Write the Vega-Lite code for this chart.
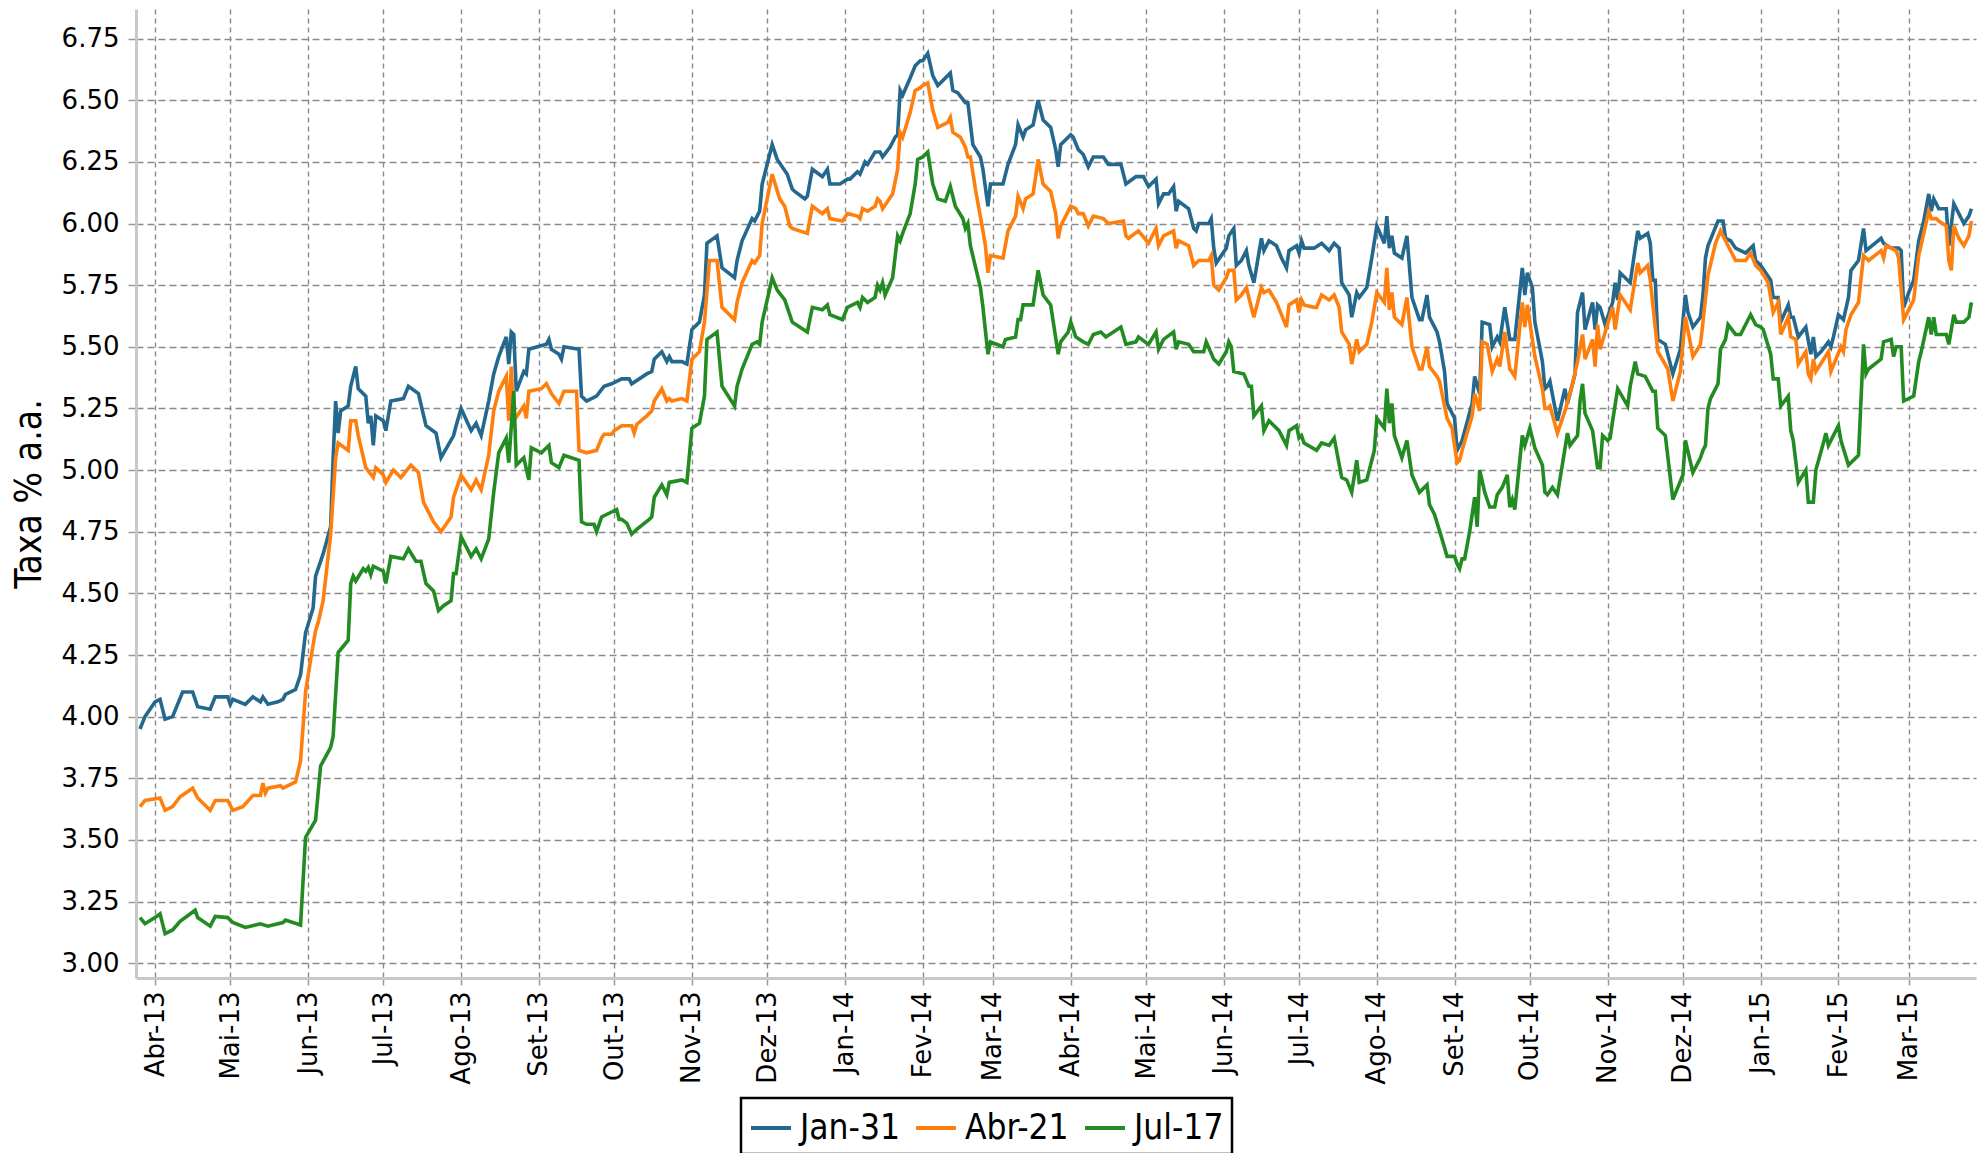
{
"$schema": "https://vega.github.io/schema/vega-lite/v6.json",
"width": 1840, "height": 969,
"autosize": {"type": "none"},
"padding": {"left": 136, "top": 9, "right": 8, "bottom": 175},
"background": "white",
"config": {"view": {"stroke": null}, "legend": {"strokeWidth": 2.5}},
"data": {"values": [
{"d":"2013-03-26","s":"Jan-31","v":3.95},{"d":"2013-03-28","s":"Jan-31","v":4.00},{"d":"2013-04-01","s":"Jan-31","v":4.06},{"d":"2013-04-03","s":"Jan-31","v":4.07},{"d":"2013-04-05","s":"Jan-31","v":3.99},{"d":"2013-04-08","s":"Jan-31","v":4.00},{"d":"2013-04-12","s":"Jan-31","v":4.10},{"d":"2013-04-16","s":"Jan-31","v":4.10},{"d":"2013-04-18","s":"Jan-31","v":4.04},{"d":"2013-04-23","s":"Jan-31","v":4.03},{"d":"2013-04-25","s":"Jan-31","v":4.08},{"d":"2013-04-30","s":"Jan-31","v":4.08},{"d":"2013-05-01","s":"Jan-31","v":4.05},{"d":"2013-05-02","s":"Jan-31","v":4.07},{"d":"2013-05-07","s":"Jan-31","v":4.05},{"d":"2013-05-10","s":"Jan-31","v":4.08},{"d":"2013-05-13","s":"Jan-31","v":4.06},{"d":"2013-05-14","s":"Jan-31","v":4.08},{"d":"2013-05-16","s":"Jan-31","v":4.05},{"d":"2013-05-20","s":"Jan-31","v":4.06},{"d":"2013-05-22","s":"Jan-31","v":4.07},{"d":"2013-05-23","s":"Jan-31","v":4.09},{"d":"2013-05-27","s":"Jan-31","v":4.11},{"d":"2013-05-29","s":"Jan-31","v":4.17},{"d":"2013-05-31","s":"Jan-31","v":4.34},{"d":"2013-06-03","s":"Jan-31","v":4.44},{"d":"2013-06-04","s":"Jan-31","v":4.57},{"d":"2013-06-07","s":"Jan-31","v":4.66},{"d":"2013-06-10","s":"Jan-31","v":4.77},{"d":"2013-06-11","s":"Jan-31","v":5.05},{"d":"2013-06-12","s":"Jan-31","v":5.28},{"d":"2013-06-13","s":"Jan-31","v":5.15},{"d":"2013-06-14","s":"Jan-31","v":5.24},{"d":"2013-06-17","s":"Jan-31","v":5.26},{"d":"2013-06-18","s":"Jan-31","v":5.34},{"d":"2013-06-20","s":"Jan-31","v":5.42},{"d":"2013-06-21","s":"Jan-31","v":5.33},{"d":"2013-06-24","s":"Jan-31","v":5.30},{"d":"2013-06-25","s":"Jan-31","v":5.19},{"d":"2013-06-26","s":"Jan-31","v":5.22},{"d":"2013-06-27","s":"Jan-31","v":5.10},{"d":"2013-06-28","s":"Jan-31","v":5.22},{"d":"2013-07-01","s":"Jan-31","v":5.20},{"d":"2013-07-02","s":"Jan-31","v":5.16},{"d":"2013-07-04","s":"Jan-31","v":5.28},{"d":"2013-07-09","s":"Jan-31","v":5.29},{"d":"2013-07-11","s":"Jan-31","v":5.34},{"d":"2013-07-15","s":"Jan-31","v":5.31},{"d":"2013-07-18","s":"Jan-31","v":5.18},{"d":"2013-07-22","s":"Jan-31","v":5.15},{"d":"2013-07-24","s":"Jan-31","v":5.05},{"d":"2013-07-29","s":"Jan-31","v":5.14},{"d":"2013-07-30","s":"Jan-31","v":5.18},{"d":"2013-08-01","s":"Jan-31","v":5.25},{"d":"2013-08-05","s":"Jan-31","v":5.16},{"d":"2013-08-07","s":"Jan-31","v":5.19},{"d":"2013-08-09","s":"Jan-31","v":5.14},{"d":"2013-08-12","s":"Jan-31","v":5.28},{"d":"2013-08-14","s":"Jan-31","v":5.39},{"d":"2013-08-16","s":"Jan-31","v":5.46},{"d":"2013-08-19","s":"Jan-31","v":5.54},{"d":"2013-08-20","s":"Jan-31","v":5.43},{"d":"2013-08-21","s":"Jan-31","v":5.56},{"d":"2013-08-22","s":"Jan-31","v":5.55},{"d":"2013-08-23","s":"Jan-31","v":5.32},{"d":"2013-08-26","s":"Jan-31","v":5.40},{"d":"2013-08-27","s":"Jan-31","v":5.39},{"d":"2013-08-28","s":"Jan-31","v":5.49},{"d":"2013-09-04","s":"Jan-31","v":5.51},{"d":"2013-09-05","s":"Jan-31","v":5.53},{"d":"2013-09-06","s":"Jan-31","v":5.49},{"d":"2013-09-09","s":"Jan-31","v":5.47},{"d":"2013-09-10","s":"Jan-31","v":5.45},{"d":"2013-09-11","s":"Jan-31","v":5.50},{"d":"2013-09-17","s":"Jan-31","v":5.49},{"d":"2013-09-18","s":"Jan-31","v":5.30},{"d":"2013-09-20","s":"Jan-31","v":5.28},{"d":"2013-09-24","s":"Jan-31","v":5.30},{"d":"2013-09-27","s":"Jan-31","v":5.34},{"d":"2013-09-30","s":"Jan-31","v":5.35},{"d":"2013-10-02","s":"Jan-31","v":5.36},{"d":"2013-10-04","s":"Jan-31","v":5.37},{"d":"2013-10-07","s":"Jan-31","v":5.37},{"d":"2013-10-08","s":"Jan-31","v":5.35},{"d":"2013-10-14","s":"Jan-31","v":5.39},{"d":"2013-10-16","s":"Jan-31","v":5.40},{"d":"2013-10-17","s":"Jan-31","v":5.45},{"d":"2013-10-20","s":"Jan-31","v":5.48},{"d":"2013-10-22","s":"Jan-31","v":5.44},{"d":"2013-10-23","s":"Jan-31","v":5.46},{"d":"2013-10-24","s":"Jan-31","v":5.44},{"d":"2013-10-28","s":"Jan-31","v":5.44},{"d":"2013-10-30","s":"Jan-31","v":5.43},{"d":"2013-11-01","s":"Jan-31","v":5.57},{"d":"2013-11-04","s":"Jan-31","v":5.60},{"d":"2013-11-06","s":"Jan-31","v":5.71},{"d":"2013-11-07","s":"Jan-31","v":5.92},{"d":"2013-11-11","s":"Jan-31","v":5.95},{"d":"2013-11-13","s":"Jan-31","v":5.82},{"d":"2013-11-18","s":"Jan-31","v":5.78},{"d":"2013-11-19","s":"Jan-31","v":5.85},{"d":"2013-11-21","s":"Jan-31","v":5.93},{"d":"2013-11-25","s":"Jan-31","v":6.02},{"d":"2013-11-26","s":"Jan-31","v":6.01},{"d":"2013-11-28","s":"Jan-31","v":6.05},{"d":"2013-11-29","s":"Jan-31","v":6.16},{"d":"2013-12-03","s":"Jan-31","v":6.32},{"d":"2013-12-05","s":"Jan-31","v":6.26},{"d":"2013-12-09","s":"Jan-31","v":6.20},{"d":"2013-12-11","s":"Jan-31","v":6.14},{"d":"2013-12-12","s":"Jan-31","v":6.13},{"d":"2013-12-16","s":"Jan-31","v":6.10},{"d":"2013-12-17","s":"Jan-31","v":6.11},{"d":"2013-12-19","s":"Jan-31","v":6.22},{"d":"2013-12-23","s":"Jan-31","v":6.19},{"d":"2013-12-25","s":"Jan-31","v":6.22},{"d":"2013-12-26","s":"Jan-31","v":6.16},{"d":"2013-12-30","s":"Jan-31","v":6.16},{"d":"2014-01-02","s":"Jan-31","v":6.18},{"d":"2014-01-03","s":"Jan-31","v":6.18},{"d":"2014-01-06","s":"Jan-31","v":6.21},{"d":"2014-01-07","s":"Jan-31","v":6.20},{"d":"2014-01-09","s":"Jan-31","v":6.25},{"d":"2014-01-10","s":"Jan-31","v":6.24},{"d":"2014-01-13","s":"Jan-31","v":6.29},{"d":"2014-01-15","s":"Jan-31","v":6.29},{"d":"2014-01-16","s":"Jan-31","v":6.27},{"d":"2014-01-19","s":"Jan-31","v":6.31},{"d":"2014-01-21","s":"Jan-31","v":6.35},{"d":"2014-01-22","s":"Jan-31","v":6.36},{"d":"2014-01-23","s":"Jan-31","v":6.54},{"d":"2014-01-24","s":"Jan-31","v":6.52},{"d":"2014-01-27","s":"Jan-31","v":6.59},{"d":"2014-01-29","s":"Jan-31","v":6.64},{"d":"2014-01-31","s":"Jan-31","v":6.66},{"d":"2014-02-01","s":"Jan-31","v":6.66},{"d":"2014-02-03","s":"Jan-31","v":6.69},{"d":"2014-02-05","s":"Jan-31","v":6.60},{"d":"2014-02-07","s":"Jan-31","v":6.56},{"d":"2014-02-12","s":"Jan-31","v":6.61},{"d":"2014-02-13","s":"Jan-31","v":6.54},{"d":"2014-02-15","s":"Jan-31","v":6.53},{"d":"2014-02-18","s":"Jan-31","v":6.49},{"d":"2014-02-19","s":"Jan-31","v":6.49},{"d":"2014-02-21","s":"Jan-31","v":6.32},{"d":"2014-02-24","s":"Jan-31","v":6.27},{"d":"2014-02-25","s":"Jan-31","v":6.22},{"d":"2014-02-27","s":"Jan-31","v":6.07},{"d":"2014-02-28","s":"Jan-31","v":6.16},{"d":"2014-03-05","s":"Jan-31","v":6.16},{"d":"2014-03-07","s":"Jan-31","v":6.24},{"d":"2014-03-10","s":"Jan-31","v":6.32},{"d":"2014-03-11","s":"Jan-31","v":6.40},{"d":"2014-03-13","s":"Jan-31","v":6.35},{"d":"2014-03-14","s":"Jan-31","v":6.38},{"d":"2014-03-17","s":"Jan-31","v":6.40},{"d":"2014-03-19","s":"Jan-31","v":6.50},{"d":"2014-03-21","s":"Jan-31","v":6.42},{"d":"2014-03-24","s":"Jan-31","v":6.39},{"d":"2014-03-26","s":"Jan-31","v":6.30},{"d":"2014-03-27","s":"Jan-31","v":6.23},{"d":"2014-03-28","s":"Jan-31","v":6.32},{"d":"2014-04-01","s":"Jan-31","v":6.36},{"d":"2014-04-02","s":"Jan-31","v":6.35},{"d":"2014-04-04","s":"Jan-31","v":6.30},{"d":"2014-04-06","s":"Jan-31","v":6.28},{"d":"2014-04-08","s":"Jan-31","v":6.23},{"d":"2014-04-10","s":"Jan-31","v":6.27},{"d":"2014-04-14","s":"Jan-31","v":6.27},{"d":"2014-04-16","s":"Jan-31","v":6.24},{"d":"2014-04-21","s":"Jan-31","v":6.24},{"d":"2014-04-23","s":"Jan-31","v":6.16},{"d":"2014-04-27","s":"Jan-31","v":6.19},{"d":"2014-04-30","s":"Jan-31","v":6.19},{"d":"2014-05-02","s":"Jan-31","v":6.15},{"d":"2014-05-05","s":"Jan-31","v":6.18},{"d":"2014-05-06","s":"Jan-31","v":6.08},{"d":"2014-05-08","s":"Jan-31","v":6.12},{"d":"2014-05-10","s":"Jan-31","v":6.12},{"d":"2014-05-12","s":"Jan-31","v":6.15},{"d":"2014-05-13","s":"Jan-31","v":6.05},{"d":"2014-05-14","s":"Jan-31","v":6.09},{"d":"2014-05-18","s":"Jan-31","v":6.06},{"d":"2014-05-20","s":"Jan-31","v":5.98},{"d":"2014-05-21","s":"Jan-31","v":5.97},{"d":"2014-05-22","s":"Jan-31","v":6.00},{"d":"2014-05-26","s":"Jan-31","v":6.00},{"d":"2014-05-27","s":"Jan-31","v":6.02},{"d":"2014-05-28","s":"Jan-31","v":5.90},{"d":"2014-05-29","s":"Jan-31","v":5.84},{"d":"2014-06-02","s":"Jan-31","v":5.90},{"d":"2014-06-03","s":"Jan-31","v":5.95},{"d":"2014-06-05","s":"Jan-31","v":5.98},{"d":"2014-06-06","s":"Jan-31","v":5.83},{"d":"2014-06-08","s":"Jan-31","v":5.85},{"d":"2014-06-10","s":"Jan-31","v":5.89},{"d":"2014-06-11","s":"Jan-31","v":5.83},{"d":"2014-06-13","s":"Jan-31","v":5.76},{"d":"2014-06-16","s":"Jan-31","v":5.94},{"d":"2014-06-17","s":"Jan-31","v":5.89},{"d":"2014-06-19","s":"Jan-31","v":5.93},{"d":"2014-06-22","s":"Jan-31","v":5.91},{"d":"2014-06-24","s":"Jan-31","v":5.86},{"d":"2014-06-26","s":"Jan-31","v":5.82},{"d":"2014-06-27","s":"Jan-31","v":5.89},{"d":"2014-06-30","s":"Jan-31","v":5.91},{"d":"2014-07-01","s":"Jan-31","v":5.88},{"d":"2014-07-02","s":"Jan-31","v":5.93},{"d":"2014-07-03","s":"Jan-31","v":5.90},{"d":"2014-07-07","s":"Jan-31","v":5.90},{"d":"2014-07-10","s":"Jan-31","v":5.92},{"d":"2014-07-13","s":"Jan-31","v":5.89},{"d":"2014-07-15","s":"Jan-31","v":5.92},{"d":"2014-07-17","s":"Jan-31","v":5.90},{"d":"2014-07-18","s":"Jan-31","v":5.76},{"d":"2014-07-21","s":"Jan-31","v":5.71},{"d":"2014-07-22","s":"Jan-31","v":5.62},{"d":"2014-07-24","s":"Jan-31","v":5.72},{"d":"2014-07-25","s":"Jan-31","v":5.70},{"d":"2014-07-28","s":"Jan-31","v":5.74},{"d":"2014-07-30","s":"Jan-31","v":5.86},{"d":"2014-08-01","s":"Jan-31","v":5.99},{"d":"2014-08-04","s":"Jan-31","v":5.92},{"d":"2014-08-05","s":"Jan-31","v":6.03},{"d":"2014-08-06","s":"Jan-31","v":5.90},{"d":"2014-08-07","s":"Jan-31","v":5.95},{"d":"2014-08-08","s":"Jan-31","v":5.88},{"d":"2014-08-11","s":"Jan-31","v":5.86},{"d":"2014-08-13","s":"Jan-31","v":5.95},{"d":"2014-08-15","s":"Jan-31","v":5.70},{"d":"2014-08-18","s":"Jan-31","v":5.61},{"d":"2014-08-19","s":"Jan-31","v":5.61},{"d":"2014-08-21","s":"Jan-31","v":5.71},{"d":"2014-08-22","s":"Jan-31","v":5.62},{"d":"2014-08-25","s":"Jan-31","v":5.56},{"d":"2014-08-26","s":"Jan-31","v":5.52},{"d":"2014-08-28","s":"Jan-31","v":5.40},{"d":"2014-08-29","s":"Jan-31","v":5.27},{"d":"2014-09-01","s":"Jan-31","v":5.21},{"d":"2014-09-02","s":"Jan-31","v":5.08},{"d":"2014-09-04","s":"Jan-31","v":5.12},{"d":"2014-09-08","s":"Jan-31","v":5.27},{"d":"2014-09-09","s":"Jan-31","v":5.38},{"d":"2014-09-11","s":"Jan-31","v":5.31},{"d":"2014-09-12","s":"Jan-31","v":5.60},{"d":"2014-09-15","s":"Jan-31","v":5.59},{"d":"2014-09-16","s":"Jan-31","v":5.50},{"d":"2014-09-18","s":"Jan-31","v":5.54},{"d":"2014-09-19","s":"Jan-31","v":5.52},{"d":"2014-09-21","s":"Jan-31","v":5.66},{"d":"2014-09-23","s":"Jan-31","v":5.53},{"d":"2014-09-25","s":"Jan-31","v":5.53},{"d":"2014-09-28","s":"Jan-31","v":5.82},{"d":"2014-09-29","s":"Jan-31","v":5.71},{"d":"2014-09-30","s":"Jan-31","v":5.80},{"d":"2014-10-02","s":"Jan-31","v":5.74},{"d":"2014-10-03","s":"Jan-31","v":5.60},{"d":"2014-10-06","s":"Jan-31","v":5.44},{"d":"2014-10-07","s":"Jan-31","v":5.33},{"d":"2014-10-08","s":"Jan-31","v":5.34},{"d":"2014-10-09","s":"Jan-31","v":5.36},{"d":"2014-10-12","s":"Jan-31","v":5.20},{"d":"2014-10-15","s":"Jan-31","v":5.33},{"d":"2014-10-16","s":"Jan-31","v":5.27},{"d":"2014-10-19","s":"Jan-31","v":5.39},{"d":"2014-10-20","s":"Jan-31","v":5.64},{"d":"2014-10-22","s":"Jan-31","v":5.72},{"d":"2014-10-23","s":"Jan-31","v":5.57},{"d":"2014-10-26","s":"Jan-31","v":5.68},{"d":"2014-10-27","s":"Jan-31","v":5.57},{"d":"2014-10-28","s":"Jan-31","v":5.67},{"d":"2014-10-29","s":"Jan-31","v":5.66},{"d":"2014-10-31","s":"Jan-31","v":5.59},{"d":"2014-11-03","s":"Jan-31","v":5.68},{"d":"2014-11-04","s":"Jan-31","v":5.76},{"d":"2014-11-05","s":"Jan-31","v":5.69},{"d":"2014-11-06","s":"Jan-31","v":5.80},{"d":"2014-11-10","s":"Jan-31","v":5.76},{"d":"2014-11-13","s":"Jan-31","v":5.97},{"d":"2014-11-14","s":"Jan-31","v":5.94},{"d":"2014-11-17","s":"Jan-31","v":5.96},{"d":"2014-11-18","s":"Jan-31","v":5.92},{"d":"2014-11-19","s":"Jan-31","v":5.77},{"d":"2014-11-20","s":"Jan-31","v":5.77},{"d":"2014-11-21","s":"Jan-31","v":5.53},{"d":"2014-11-24","s":"Jan-31","v":5.51},{"d":"2014-11-27","s":"Jan-31","v":5.39},{"d":"2014-11-30","s":"Jan-31","v":5.49},{"d":"2014-12-02","s":"Jan-31","v":5.71},{"d":"2014-12-03","s":"Jan-31","v":5.64},{"d":"2014-12-05","s":"Jan-31","v":5.58},{"d":"2014-12-08","s":"Jan-31","v":5.62},{"d":"2014-12-09","s":"Jan-31","v":5.71},{"d":"2014-12-10","s":"Jan-31","v":5.86},{"d":"2014-12-11","s":"Jan-31","v":5.91},{"d":"2014-12-13","s":"Jan-31","v":5.96},{"d":"2014-12-15","s":"Jan-31","v":6.01},{"d":"2014-12-17","s":"Jan-31","v":6.01},{"d":"2014-12-18","s":"Jan-31","v":5.94},{"d":"2014-12-20","s":"Jan-31","v":5.93},{"d":"2014-12-22","s":"Jan-31","v":5.90},{"d":"2014-12-26","s":"Jan-31","v":5.88},{"d":"2014-12-29","s":"Jan-31","v":5.91},{"d":"2014-12-30","s":"Jan-31","v":5.85},{"d":"2015-01-01","s":"Jan-31","v":5.83},{"d":"2015-01-03","s":"Jan-31","v":5.80},{"d":"2015-01-05","s":"Jan-31","v":5.77},{"d":"2015-01-06","s":"Jan-31","v":5.70},{"d":"2015-01-08","s":"Jan-31","v":5.70},{"d":"2015-01-09","s":"Jan-31","v":5.60},{"d":"2015-01-12","s":"Jan-31","v":5.67},{"d":"2015-01-13","s":"Jan-31","v":5.62},{"d":"2015-01-14","s":"Jan-31","v":5.62},{"d":"2015-01-16","s":"Jan-31","v":5.54},{"d":"2015-01-19","s":"Jan-31","v":5.58},{"d":"2015-01-21","s":"Jan-31","v":5.47},{"d":"2015-01-22","s":"Jan-31","v":5.54},{"d":"2015-01-23","s":"Jan-31","v":5.46},{"d":"2015-01-25","s":"Jan-31","v":5.48},{"d":"2015-01-28","s":"Jan-31","v":5.52},{"d":"2015-01-29","s":"Jan-31","v":5.50},{"d":"2015-01-30","s":"Jan-31","v":5.54},{"d":"2015-02-01","s":"Jan-31","v":5.63},{"d":"2015-02-03","s":"Jan-31","v":5.61},{"d":"2015-02-05","s":"Jan-31","v":5.70},{"d":"2015-02-06","s":"Jan-31","v":5.81},{"d":"2015-02-09","s":"Jan-31","v":5.85},{"d":"2015-02-11","s":"Jan-31","v":5.98},{"d":"2015-02-12","s":"Jan-31","v":5.89},{"d":"2015-02-18","s":"Jan-31","v":5.94},{"d":"2015-02-19","s":"Jan-31","v":5.92},{"d":"2015-02-22","s":"Jan-31","v":5.90},{"d":"2015-02-25","s":"Jan-31","v":5.90},{"d":"2015-02-26","s":"Jan-31","v":5.89},{"d":"2015-02-27","s":"Jan-31","v":5.66},{"d":"2015-03-01","s":"Jan-31","v":5.72},{"d":"2015-03-03","s":"Jan-31","v":5.77},{"d":"2015-03-05","s":"Jan-31","v":5.93},{"d":"2015-03-07","s":"Jan-31","v":6.01},{"d":"2015-03-09","s":"Jan-31","v":6.12},{"d":"2015-03-10","s":"Jan-31","v":6.05},{"d":"2015-03-11","s":"Jan-31","v":6.10},{"d":"2015-03-13","s":"Jan-31","v":6.06},{"d":"2015-03-16","s":"Jan-31","v":6.06},{"d":"2015-03-17","s":"Jan-31","v":5.91},{"d":"2015-03-19","s":"Jan-31","v":6.08},{"d":"2015-03-21","s":"Jan-31","v":6.04},{"d":"2015-03-23","s":"Jan-31","v":6.00},{"d":"2015-03-25","s":"Jan-31","v":6.03},{"d":"2015-03-26","s":"Jan-31","v":6.06},
{"d":"2013-03-26","s":"Abr-21","v":3.635},{"d":"2013-03-28","s":"Abr-21","v":3.66},{"d":"2013-04-03","s":"Abr-21","v":3.67},{"d":"2013-04-05","s":"Abr-21","v":3.62},{"d":"2013-04-08","s":"Abr-21","v":3.635},{"d":"2013-04-11","s":"Abr-21","v":3.675},{"d":"2013-04-16","s":"Abr-21","v":3.71},{"d":"2013-04-18","s":"Abr-21","v":3.67},{"d":"2013-04-23","s":"Abr-21","v":3.62},{"d":"2013-04-25","s":"Abr-21","v":3.66},{"d":"2013-04-30","s":"Abr-21","v":3.66},{"d":"2013-05-02","s":"Abr-21","v":3.62},{"d":"2013-05-06","s":"Abr-21","v":3.635},{"d":"2013-05-10","s":"Abr-21","v":3.68},{"d":"2013-05-13","s":"Abr-21","v":3.68},{"d":"2013-05-14","s":"Abr-21","v":3.73},{"d":"2013-05-15","s":"Abr-21","v":3.69},{"d":"2013-05-16","s":"Abr-21","v":3.71},{"d":"2013-05-21","s":"Abr-21","v":3.72},{"d":"2013-05-22","s":"Abr-21","v":3.71},{"d":"2013-05-27","s":"Abr-21","v":3.735},{"d":"2013-05-29","s":"Abr-21","v":3.82},{"d":"2013-05-31","s":"Abr-21","v":4.10},{"d":"2013-06-02","s":"Abr-21","v":4.23},{"d":"2013-06-04","s":"Abr-21","v":4.35},{"d":"2013-06-05","s":"Abr-21","v":4.38},{"d":"2013-06-07","s":"Abr-21","v":4.47},{"d":"2013-06-10","s":"Abr-21","v":4.74},{"d":"2013-06-12","s":"Abr-21","v":5.05},{"d":"2013-06-13","s":"Abr-21","v":5.11},{"d":"2013-06-17","s":"Abr-21","v":5.08},{"d":"2013-06-18","s":"Abr-21","v":5.20},{"d":"2013-06-20","s":"Abr-21","v":5.20},{"d":"2013-06-21","s":"Abr-21","v":5.14},{"d":"2013-06-24","s":"Abr-21","v":5.01},{"d":"2013-06-27","s":"Abr-21","v":4.97},{"d":"2013-06-28","s":"Abr-21","v":5.01},{"d":"2013-07-01","s":"Abr-21","v":4.98},{"d":"2013-07-02","s":"Abr-21","v":4.95},{"d":"2013-07-05","s":"Abr-21","v":5.00},{"d":"2013-07-08","s":"Abr-21","v":4.97},{"d":"2013-07-12","s":"Abr-21","v":5.02},{"d":"2013-07-15","s":"Abr-21","v":4.99},{"d":"2013-07-17","s":"Abr-21","v":4.87},{"d":"2013-07-21","s":"Abr-21","v":4.79},{"d":"2013-07-24","s":"Abr-21","v":4.75},{"d":"2013-07-28","s":"Abr-21","v":4.81},{"d":"2013-07-29","s":"Abr-21","v":4.89},{"d":"2013-08-01","s":"Abr-21","v":4.98},{"d":"2013-08-05","s":"Abr-21","v":4.92},{"d":"2013-08-07","s":"Abr-21","v":4.96},{"d":"2013-08-09","s":"Abr-21","v":4.92},{"d":"2013-08-12","s":"Abr-21","v":5.06},{"d":"2013-08-14","s":"Abr-21","v":5.24},{"d":"2013-08-16","s":"Abr-21","v":5.32},{"d":"2013-08-19","s":"Abr-21","v":5.38},{"d":"2013-08-20","s":"Abr-21","v":5.20},{"d":"2013-08-21","s":"Abr-21","v":5.42},{"d":"2013-08-22","s":"Abr-21","v":5.20},{"d":"2013-08-26","s":"Abr-21","v":5.26},{"d":"2013-08-27","s":"Abr-21","v":5.21},{"d":"2013-08-28","s":"Abr-21","v":5.32},{"d":"2013-09-02","s":"Abr-21","v":5.33},{"d":"2013-09-04","s":"Abr-21","v":5.35},{"d":"2013-09-06","s":"Abr-21","v":5.31},{"d":"2013-09-09","s":"Abr-21","v":5.27},{"d":"2013-09-11","s":"Abr-21","v":5.32},{"d":"2013-09-16","s":"Abr-21","v":5.32},{"d":"2013-09-17","s":"Abr-21","v":5.08},{"d":"2013-09-20","s":"Abr-21","v":5.07},{"d":"2013-09-24","s":"Abr-21","v":5.08},{"d":"2013-09-26","s":"Abr-21","v":5.13},{"d":"2013-09-27","s":"Abr-21","v":5.145},{"d":"2013-09-30","s":"Abr-21","v":5.145},{"d":"2013-10-01","s":"Abr-21","v":5.16},{"d":"2013-10-04","s":"Abr-21","v":5.18},{"d":"2013-10-08","s":"Abr-21","v":5.18},{"d":"2013-10-09","s":"Abr-21","v":5.15},{"d":"2013-10-10","s":"Abr-21","v":5.185},{"d":"2013-10-14","s":"Abr-21","v":5.22},{"d":"2013-10-16","s":"Abr-21","v":5.24},{"d":"2013-10-17","s":"Abr-21","v":5.28},{"d":"2013-10-20","s":"Abr-21","v":5.33},{"d":"2013-10-22","s":"Abr-21","v":5.28},{"d":"2013-10-23","s":"Abr-21","v":5.29},{"d":"2013-10-24","s":"Abr-21","v":5.28},{"d":"2013-10-28","s":"Abr-21","v":5.29},{"d":"2013-10-30","s":"Abr-21","v":5.28},{"d":"2013-11-01","s":"Abr-21","v":5.45},{"d":"2013-11-04","s":"Abr-21","v":5.48},{"d":"2013-11-06","s":"Abr-21","v":5.60},{"d":"2013-11-08","s":"Abr-21","v":5.85},{"d":"2013-11-11","s":"Abr-21","v":5.85},{"d":"2013-11-13","s":"Abr-21","v":5.66},{"d":"2013-11-18","s":"Abr-21","v":5.61},{"d":"2013-11-19","s":"Abr-21","v":5.68},{"d":"2013-11-21","s":"Abr-21","v":5.76},{"d":"2013-11-25","s":"Abr-21","v":5.85},{"d":"2013-11-26","s":"Abr-21","v":5.84},{"d":"2013-11-28","s":"Abr-21","v":5.87},{"d":"2013-11-29","s":"Abr-21","v":6.00},{"d":"2013-12-03","s":"Abr-21","v":6.20},{"d":"2013-12-06","s":"Abr-21","v":6.10},{"d":"2013-12-08","s":"Abr-21","v":6.07},{"d":"2013-12-10","s":"Abr-21","v":5.99},{"d":"2013-12-11","s":"Abr-21","v":5.98},{"d":"2013-12-17","s":"Abr-21","v":5.96},{"d":"2013-12-19","s":"Abr-21","v":6.07},{"d":"2013-12-23","s":"Abr-21","v":6.04},{"d":"2013-12-25","s":"Abr-21","v":6.06},{"d":"2013-12-26","s":"Abr-21","v":6.02},{"d":"2013-12-31","s":"Abr-21","v":6.01},{"d":"2014-01-02","s":"Abr-21","v":6.04},{"d":"2014-01-06","s":"Abr-21","v":6.03},{"d":"2014-01-07","s":"Abr-21","v":6.02},{"d":"2014-01-08","s":"Abr-21","v":6.06},{"d":"2014-01-10","s":"Abr-21","v":6.05},{"d":"2014-01-13","s":"Abr-21","v":6.07},{"d":"2014-01-14","s":"Abr-21","v":6.10},{"d":"2014-01-15","s":"Abr-21","v":6.09},{"d":"2014-01-16","s":"Abr-21","v":6.06},{"d":"2014-01-20","s":"Abr-21","v":6.12},{"d":"2014-01-22","s":"Abr-21","v":6.22},{"d":"2014-01-23","s":"Abr-21","v":6.37},{"d":"2014-01-24","s":"Abr-21","v":6.35},{"d":"2014-01-27","s":"Abr-21","v":6.45},{"d":"2014-01-29","s":"Abr-21","v":6.54},{"d":"2014-01-31","s":"Abr-21","v":6.55},{"d":"2014-02-01","s":"Abr-21","v":6.56},{"d":"2014-02-03","s":"Abr-21","v":6.57},{"d":"2014-02-05","s":"Abr-21","v":6.46},{"d":"2014-02-07","s":"Abr-21","v":6.39},{"d":"2014-02-11","s":"Abr-21","v":6.41},{"d":"2014-02-12","s":"Abr-21","v":6.43},{"d":"2014-02-13","s":"Abr-21","v":6.37},{"d":"2014-02-16","s":"Abr-21","v":6.35},{"d":"2014-02-18","s":"Abr-21","v":6.31},{"d":"2014-02-19","s":"Abr-21","v":6.27},{"d":"2014-02-20","s":"Abr-21","v":6.27},{"d":"2014-02-22","s":"Abr-21","v":6.14},{"d":"2014-02-25","s":"Abr-21","v":5.97},{"d":"2014-02-26","s":"Abr-21","v":5.91},{"d":"2014-02-27","s":"Abr-21","v":5.80},{"d":"2014-02-28","s":"Abr-21","v":5.87},{"d":"2014-03-05","s":"Abr-21","v":5.86},{"d":"2014-03-07","s":"Abr-21","v":5.97},{"d":"2014-03-10","s":"Abr-21","v":6.03},{"d":"2014-03-11","s":"Abr-21","v":6.11},{"d":"2014-03-13","s":"Abr-21","v":6.06},{"d":"2014-03-14","s":"Abr-21","v":6.10},{"d":"2014-03-17","s":"Abr-21","v":6.12},{"d":"2014-03-19","s":"Abr-21","v":6.26},{"d":"2014-03-21","s":"Abr-21","v":6.16},{"d":"2014-03-24","s":"Abr-21","v":6.13},{"d":"2014-03-26","s":"Abr-21","v":6.04},{"d":"2014-03-27","s":"Abr-21","v":5.94},{"d":"2014-03-28","s":"Abr-21","v":5.99},{"d":"2014-04-01","s":"Abr-21","v":6.07},{"d":"2014-04-03","s":"Abr-21","v":6.06},{"d":"2014-04-04","s":"Abr-21","v":6.04},{"d":"2014-04-06","s":"Abr-21","v":6.04},{"d":"2014-04-08","s":"Abr-21","v":5.99},{"d":"2014-04-10","s":"Abr-21","v":6.03},{"d":"2014-04-14","s":"Abr-21","v":6.02},{"d":"2014-04-16","s":"Abr-21","v":6.00},{"d":"2014-04-22","s":"Abr-21","v":6.01},{"d":"2014-04-23","s":"Abr-21","v":5.95},{"d":"2014-04-24","s":"Abr-21","v":5.94},{"d":"2014-04-28","s":"Abr-21","v":5.97},{"d":"2014-05-02","s":"Abr-21","v":5.92},{"d":"2014-05-05","s":"Abr-21","v":5.98},{"d":"2014-05-06","s":"Abr-21","v":5.91},{"d":"2014-05-08","s":"Abr-21","v":5.95},{"d":"2014-05-12","s":"Abr-21","v":5.97},{"d":"2014-05-13","s":"Abr-21","v":5.90},{"d":"2014-05-14","s":"Abr-21","v":5.93},{"d":"2014-05-18","s":"Abr-21","v":5.91},{"d":"2014-05-20","s":"Abr-21","v":5.83},{"d":"2014-05-22","s":"Abr-21","v":5.85},{"d":"2014-05-26","s":"Abr-21","v":5.85},{"d":"2014-05-27","s":"Abr-21","v":5.87},{"d":"2014-05-28","s":"Abr-21","v":5.75},{"d":"2014-05-30","s":"Abr-21","v":5.73},{"d":"2014-06-02","s":"Abr-21","v":5.78},{"d":"2014-06-03","s":"Abr-21","v":5.81},{"d":"2014-06-05","s":"Abr-21","v":5.81},{"d":"2014-06-06","s":"Abr-21","v":5.69},{"d":"2014-06-08","s":"Abr-21","v":5.71},{"d":"2014-06-10","s":"Abr-21","v":5.74},{"d":"2014-06-11","s":"Abr-21","v":5.70},{"d":"2014-06-13","s":"Abr-21","v":5.62},{"d":"2014-06-16","s":"Abr-21","v":5.74},{"d":"2014-06-17","s":"Abr-21","v":5.72},{"d":"2014-06-19","s":"Abr-21","v":5.73},{"d":"2014-06-22","s":"Abr-21","v":5.68},{"d":"2014-06-26","s":"Abr-21","v":5.58},{"d":"2014-06-27","s":"Abr-21","v":5.67},{"d":"2014-06-30","s":"Abr-21","v":5.69},{"d":"2014-07-01","s":"Abr-21","v":5.64},{"d":"2014-07-02","s":"Abr-21","v":5.69},{"d":"2014-07-03","s":"Abr-21","v":5.67},{"d":"2014-07-07","s":"Abr-21","v":5.66},{"d":"2014-07-08","s":"Abr-21","v":5.66},{"d":"2014-07-10","s":"Abr-21","v":5.71},{"d":"2014-07-13","s":"Abr-21","v":5.69},{"d":"2014-07-15","s":"Abr-21","v":5.71},{"d":"2014-07-17","s":"Abr-21","v":5.66},{"d":"2014-07-18","s":"Abr-21","v":5.56},{"d":"2014-07-21","s":"Abr-21","v":5.51},{"d":"2014-07-22","s":"Abr-21","v":5.43},{"d":"2014-07-24","s":"Abr-21","v":5.53},{"d":"2014-07-25","s":"Abr-21","v":5.48},{"d":"2014-07-28","s":"Abr-21","v":5.51},{"d":"2014-07-30","s":"Abr-21","v":5.60},{"d":"2014-08-01","s":"Abr-21","v":5.72},{"d":"2014-08-04","s":"Abr-21","v":5.68},{"d":"2014-08-05","s":"Abr-21","v":5.82},{"d":"2014-08-06","s":"Abr-21","v":5.65},{"d":"2014-08-07","s":"Abr-21","v":5.72},{"d":"2014-08-08","s":"Abr-21","v":5.62},{"d":"2014-08-11","s":"Abr-21","v":5.59},{"d":"2014-08-13","s":"Abr-21","v":5.70},{"d":"2014-08-15","s":"Abr-21","v":5.50},{"d":"2014-08-18","s":"Abr-21","v":5.41},{"d":"2014-08-19","s":"Abr-21","v":5.41},{"d":"2014-08-21","s":"Abr-21","v":5.50},{"d":"2014-08-22","s":"Abr-21","v":5.42},{"d":"2014-08-25","s":"Abr-21","v":5.38},{"d":"2014-08-26","s":"Abr-21","v":5.36},{"d":"2014-08-29","s":"Abr-21","v":5.21},{"d":"2014-08-31","s":"Abr-21","v":5.17},{"d":"2014-09-02","s":"Abr-21","v":5.03},{"d":"2014-09-03","s":"Abr-21","v":5.04},{"d":"2014-09-04","s":"Abr-21","v":5.08},{"d":"2014-09-08","s":"Abr-21","v":5.22},{"d":"2014-09-09","s":"Abr-21","v":5.31},{"d":"2014-09-11","s":"Abr-21","v":5.24},{"d":"2014-09-12","s":"Abr-21","v":5.52},{"d":"2014-09-14","s":"Abr-21","v":5.51},{"d":"2014-09-16","s":"Abr-21","v":5.40},{"d":"2014-09-18","s":"Abr-21","v":5.45},{"d":"2014-09-19","s":"Abr-21","v":5.42},{"d":"2014-09-21","s":"Abr-21","v":5.56},{"d":"2014-09-23","s":"Abr-21","v":5.41},{"d":"2014-09-25","s":"Abr-21","v":5.38},{"d":"2014-09-28","s":"Abr-21","v":5.68},{"d":"2014-09-29","s":"Abr-21","v":5.58},{"d":"2014-09-30","s":"Abr-21","v":5.67},{"d":"2014-10-03","s":"Abr-21","v":5.46},{"d":"2014-10-06","s":"Abr-21","v":5.33},{"d":"2014-10-07","s":"Abr-21","v":5.25},{"d":"2014-10-08","s":"Abr-21","v":5.25},{"d":"2014-10-09","s":"Abr-21","v":5.26},{"d":"2014-10-12","s":"Abr-21","v":5.15},{"d":"2014-10-15","s":"Abr-21","v":5.24},{"d":"2014-10-18","s":"Abr-21","v":5.35},{"d":"2014-10-20","s":"Abr-21","v":5.44},{"d":"2014-10-22","s":"Abr-21","v":5.55},{"d":"2014-10-23","s":"Abr-21","v":5.45},{"d":"2014-10-26","s":"Abr-21","v":5.53},{"d":"2014-10-27","s":"Abr-21","v":5.42},{"d":"2014-10-28","s":"Abr-21","v":5.59},{"d":"2014-10-29","s":"Abr-21","v":5.49},{"d":"2014-11-03","s":"Abr-21","v":5.66},{"d":"2014-11-04","s":"Abr-21","v":5.57},{"d":"2014-11-06","s":"Abr-21","v":5.71},{"d":"2014-11-10","s":"Abr-21","v":5.65},{"d":"2014-11-13","s":"Abr-21","v":5.84},{"d":"2014-11-14","s":"Abr-21","v":5.80},{"d":"2014-11-17","s":"Abr-21","v":5.83},{"d":"2014-11-18","s":"Abr-21","v":5.77},{"d":"2014-11-21","s":"Abr-21","v":5.48},{"d":"2014-11-25","s":"Abr-21","v":5.41},{"d":"2014-11-27","s":"Abr-21","v":5.28},{"d":"2014-11-30","s":"Abr-21","v":5.40},{"d":"2014-12-02","s":"Abr-21","v":5.62},{"d":"2014-12-05","s":"Abr-21","v":5.46},{"d":"2014-12-08","s":"Abr-21","v":5.51},{"d":"2014-12-09","s":"Abr-21","v":5.60},{"d":"2014-12-11","s":"Abr-21","v":5.79},{"d":"2014-12-14","s":"Abr-21","v":5.92},{"d":"2014-12-16","s":"Abr-21","v":5.97},{"d":"2014-12-18","s":"Abr-21","v":5.93},{"d":"2014-12-22","s":"Abr-21","v":5.85},{"d":"2014-12-26","s":"Abr-21","v":5.85},{"d":"2014-12-28","s":"Abr-21","v":5.88},{"d":"2014-12-30","s":"Abr-21","v":5.83},{"d":"2015-01-01","s":"Abr-21","v":5.81},{"d":"2015-01-04","s":"Abr-21","v":5.76},{"d":"2015-01-06","s":"Abr-21","v":5.64},{"d":"2015-01-08","s":"Abr-21","v":5.68},{"d":"2015-01-09","s":"Abr-21","v":5.55},{"d":"2015-01-12","s":"Abr-21","v":5.62},{"d":"2015-01-13","s":"Abr-21","v":5.54},{"d":"2015-01-15","s":"Abr-21","v":5.53},{"d":"2015-01-16","s":"Abr-21","v":5.43},{"d":"2015-01-19","s":"Abr-21","v":5.48},{"d":"2015-01-20","s":"Abr-21","v":5.39},{"d":"2015-01-21","s":"Abr-21","v":5.37},{"d":"2015-01-22","s":"Abr-21","v":5.45},{"d":"2015-01-23","s":"Abr-21","v":5.40},{"d":"2015-01-28","s":"Abr-21","v":5.48},{"d":"2015-01-29","s":"Abr-21","v":5.40},{"d":"2015-02-02","s":"Abr-21","v":5.50},{"d":"2015-02-03","s":"Abr-21","v":5.48},{"d":"2015-02-04","s":"Abr-21","v":5.57},{"d":"2015-02-06","s":"Abr-21","v":5.63},{"d":"2015-02-09","s":"Abr-21","v":5.68},{"d":"2015-02-11","s":"Abr-21","v":5.87},{"d":"2015-02-13","s":"Abr-21","v":5.85},{"d":"2015-02-18","s":"Abr-21","v":5.89},{"d":"2015-02-19","s":"Abr-21","v":5.86},{"d":"2015-02-20","s":"Abr-21","v":5.91},{"d":"2015-02-24","s":"Abr-21","v":5.89},{"d":"2015-02-25","s":"Abr-21","v":5.86},{"d":"2015-02-27","s":"Abr-21","v":5.61},{"d":"2015-03-01","s":"Abr-21","v":5.65},{"d":"2015-03-03","s":"Abr-21","v":5.69},{"d":"2015-03-05","s":"Abr-21","v":5.87},{"d":"2015-03-07","s":"Abr-21","v":5.96},{"d":"2015-03-09","s":"Abr-21","v":6.05},{"d":"2015-03-10","s":"Abr-21","v":6.02},{"d":"2015-03-12","s":"Abr-21","v":6.02},{"d":"2015-03-13","s":"Abr-21","v":6.01},{"d":"2015-03-16","s":"Abr-21","v":5.99},{"d":"2015-03-17","s":"Abr-21","v":5.85},{"d":"2015-03-18","s":"Abr-21","v":5.81},{"d":"2015-03-19","s":"Abr-21","v":5.99},{"d":"2015-03-21","s":"Abr-21","v":5.94},{"d":"2015-03-23","s":"Abr-21","v":5.91},{"d":"2015-03-25","s":"Abr-21","v":5.95},{"d":"2015-03-26","s":"Abr-21","v":6.01},
{"d":"2013-03-26","s":"Jul-17","v":3.185},{"d":"2013-03-28","s":"Jul-17","v":3.16},{"d":"2013-04-01","s":"Jul-17","v":3.185},{"d":"2013-04-03","s":"Jul-17","v":3.20},{"d":"2013-04-05","s":"Jul-17","v":3.12},{"d":"2013-04-08","s":"Jul-17","v":3.135},{"d":"2013-04-11","s":"Jul-17","v":3.17},{"d":"2013-04-17","s":"Jul-17","v":3.215},{"d":"2013-04-18","s":"Jul-17","v":3.185},{"d":"2013-04-23","s":"Jul-17","v":3.15},{"d":"2013-04-25","s":"Jul-17","v":3.19},{"d":"2013-04-30","s":"Jul-17","v":3.185},{"d":"2013-05-02","s":"Jul-17","v":3.165},{"d":"2013-05-07","s":"Jul-17","v":3.145},{"d":"2013-05-13","s":"Jul-17","v":3.16},{"d":"2013-05-16","s":"Jul-17","v":3.15},{"d":"2013-05-22","s":"Jul-17","v":3.165},{"d":"2013-05-23","s":"Jul-17","v":3.175},{"d":"2013-05-29","s":"Jul-17","v":3.155},{"d":"2013-05-31","s":"Jul-17","v":3.51},{"d":"2013-06-04","s":"Jul-17","v":3.58},{"d":"2013-06-06","s":"Jul-17","v":3.80},{"d":"2013-06-10","s":"Jul-17","v":3.875},{"d":"2013-06-11","s":"Jul-17","v":3.92},{"d":"2013-06-13","s":"Jul-17","v":4.26},{"d":"2013-06-17","s":"Jul-17","v":4.31},{"d":"2013-06-18","s":"Jul-17","v":4.54},{"d":"2013-06-19","s":"Jul-17","v":4.57},{"d":"2013-06-20","s":"Jul-17","v":4.55},{"d":"2013-06-23","s":"Jul-17","v":4.60},{"d":"2013-06-24","s":"Jul-17","v":4.59},{"d":"2013-06-25","s":"Jul-17","v":4.605},{"d":"2013-06-26","s":"Jul-17","v":4.575},{"d":"2013-06-27","s":"Jul-17","v":4.61},{"d":"2013-07-01","s":"Jul-17","v":4.59},{"d":"2013-07-02","s":"Jul-17","v":4.54},{"d":"2013-07-04","s":"Jul-17","v":4.65},{"d":"2013-07-09","s":"Jul-17","v":4.64},{"d":"2013-07-11","s":"Jul-17","v":4.68},{"d":"2013-07-14","s":"Jul-17","v":4.63},{"d":"2013-07-16","s":"Jul-17","v":4.63},{"d":"2013-07-18","s":"Jul-17","v":4.54},{"d":"2013-07-21","s":"Jul-17","v":4.51},{"d":"2013-07-23","s":"Jul-17","v":4.43},{"d":"2013-07-25","s":"Jul-17","v":4.45},{"d":"2013-07-28","s":"Jul-17","v":4.47},{"d":"2013-07-29","s":"Jul-17","v":4.58},{"d":"2013-07-30","s":"Jul-17","v":4.58},{"d":"2013-08-01","s":"Jul-17","v":4.73},{"d":"2013-08-05","s":"Jul-17","v":4.65},{"d":"2013-08-07","s":"Jul-17","v":4.68},{"d":"2013-08-09","s":"Jul-17","v":4.64},{"d":"2013-08-12","s":"Jul-17","v":4.72},{"d":"2013-08-14","s":"Jul-17","v":4.91},{"d":"2013-08-16","s":"Jul-17","v":5.07},{"d":"2013-08-19","s":"Jul-17","v":5.13},{"d":"2013-08-20","s":"Jul-17","v":5.03},{"d":"2013-08-22","s":"Jul-17","v":5.32},{"d":"2013-08-23","s":"Jul-17","v":5.02},{"d":"2013-08-26","s":"Jul-17","v":5.05},{"d":"2013-08-28","s":"Jul-17","v":4.96},{"d":"2013-08-29","s":"Jul-17","v":5.09},{"d":"2013-09-02","s":"Jul-17","v":5.07},{"d":"2013-09-05","s":"Jul-17","v":5.10},{"d":"2013-09-06","s":"Jul-17","v":5.03},{"d":"2013-09-09","s":"Jul-17","v":5.01},{"d":"2013-09-11","s":"Jul-17","v":5.06},{"d":"2013-09-17","s":"Jul-17","v":5.04},{"d":"2013-09-18","s":"Jul-17","v":4.79},{"d":"2013-09-20","s":"Jul-17","v":4.78},{"d":"2013-09-23","s":"Jul-17","v":4.78},{"d":"2013-09-24","s":"Jul-17","v":4.75},{"d":"2013-09-26","s":"Jul-17","v":4.81},{"d":"2013-09-30","s":"Jul-17","v":4.83},{"d":"2013-10-02","s":"Jul-17","v":4.84},{"d":"2013-10-03","s":"Jul-17","v":4.80},{"d":"2013-10-04","s":"Jul-17","v":4.80},{"d":"2013-10-06","s":"Jul-17","v":4.785},{"d":"2013-10-08","s":"Jul-17","v":4.74},{"d":"2013-10-10","s":"Jul-17","v":4.76},{"d":"2013-10-15","s":"Jul-17","v":4.80},{"d":"2013-10-16","s":"Jul-17","v":4.81},{"d":"2013-10-17","s":"Jul-17","v":4.89},{"d":"2013-10-20","s":"Jul-17","v":4.94},{"d":"2013-10-22","s":"Jul-17","v":4.90},{"d":"2013-10-23","s":"Jul-17","v":4.95},{"d":"2013-10-28","s":"Jul-17","v":4.96},{"d":"2013-10-30","s":"Jul-17","v":4.95},{"d":"2013-11-01","s":"Jul-17","v":5.17},{"d":"2013-11-04","s":"Jul-17","v":5.19},{"d":"2013-11-06","s":"Jul-17","v":5.30},{"d":"2013-11-07","s":"Jul-17","v":5.53},{"d":"2013-11-11","s":"Jul-17","v":5.56},{"d":"2013-11-13","s":"Jul-17","v":5.34},{"d":"2013-11-18","s":"Jul-17","v":5.26},{"d":"2013-11-19","s":"Jul-17","v":5.34},{"d":"2013-11-21","s":"Jul-17","v":5.41},{"d":"2013-11-25","s":"Jul-17","v":5.51},{"d":"2013-11-27","s":"Jul-17","v":5.52},{"d":"2013-11-28","s":"Jul-17","v":5.51},{"d":"2013-11-29","s":"Jul-17","v":5.60},{"d":"2013-12-03","s":"Jul-17","v":5.78},{"d":"2013-12-05","s":"Jul-17","v":5.73},{"d":"2013-12-08","s":"Jul-17","v":5.69},{"d":"2013-12-11","s":"Jul-17","v":5.60},{"d":"2013-12-17","s":"Jul-17","v":5.56},{"d":"2013-12-19","s":"Jul-17","v":5.66},{"d":"2013-12-23","s":"Jul-17","v":5.65},{"d":"2013-12-25","s":"Jul-17","v":5.67},{"d":"2013-12-26","s":"Jul-17","v":5.63},{"d":"2013-12-31","s":"Jul-17","v":5.61},{"d":"2014-01-02","s":"Jul-17","v":5.66},{"d":"2014-01-06","s":"Jul-17","v":5.68},{"d":"2014-01-07","s":"Jul-17","v":5.66},{"d":"2014-01-08","s":"Jul-17","v":5.70},{"d":"2014-01-10","s":"Jul-17","v":5.68},{"d":"2014-01-13","s":"Jul-17","v":5.70},{"d":"2014-01-14","s":"Jul-17","v":5.75},{"d":"2014-01-15","s":"Jul-17","v":5.73},{"d":"2014-01-16","s":"Jul-17","v":5.76},{"d":"2014-01-17","s":"Jul-17","v":5.71},{"d":"2014-01-20","s":"Jul-17","v":5.78},{"d":"2014-01-22","s":"Jul-17","v":5.95},{"d":"2014-01-23","s":"Jul-17","v":5.93},{"d":"2014-01-24","s":"Jul-17","v":5.96},{"d":"2014-01-27","s":"Jul-17","v":6.04},{"d":"2014-01-29","s":"Jul-17","v":6.16},{"d":"2014-01-30","s":"Jul-17","v":6.26},{"d":"2014-02-01","s":"Jul-17","v":6.27},{"d":"2014-02-03","s":"Jul-17","v":6.29},{"d":"2014-02-05","s":"Jul-17","v":6.16},{"d":"2014-02-07","s":"Jul-17","v":6.10},{"d":"2014-02-10","s":"Jul-17","v":6.09},{"d":"2014-02-12","s":"Jul-17","v":6.15},{"d":"2014-02-14","s":"Jul-17","v":6.07},{"d":"2014-02-17","s":"Jul-17","v":6.02},{"d":"2014-02-18","s":"Jul-17","v":5.98},{"d":"2014-02-19","s":"Jul-17","v":6.00},{"d":"2014-02-20","s":"Jul-17","v":5.91},{"d":"2014-02-24","s":"Jul-17","v":5.74},{"d":"2014-02-25","s":"Jul-17","v":5.66},{"d":"2014-02-27","s":"Jul-17","v":5.47},{"d":"2014-02-28","s":"Jul-17","v":5.52},{"d":"2014-03-05","s":"Jul-17","v":5.50},{"d":"2014-03-06","s":"Jul-17","v":5.53},{"d":"2014-03-10","s":"Jul-17","v":5.54},{"d":"2014-03-11","s":"Jul-17","v":5.61},{"d":"2014-03-12","s":"Jul-17","v":5.61},{"d":"2014-03-13","s":"Jul-17","v":5.67},{"d":"2014-03-17","s":"Jul-17","v":5.67},{"d":"2014-03-19","s":"Jul-17","v":5.81},{"d":"2014-03-21","s":"Jul-17","v":5.71},{"d":"2014-03-24","s":"Jul-17","v":5.67},{"d":"2014-03-27","s":"Jul-17","v":5.47},{"d":"2014-03-28","s":"Jul-17","v":5.52},{"d":"2014-03-31","s":"Jul-17","v":5.56},{"d":"2014-04-01","s":"Jul-17","v":5.60},{"d":"2014-04-03","s":"Jul-17","v":5.54},{"d":"2014-04-06","s":"Jul-17","v":5.52},{"d":"2014-04-08","s":"Jul-17","v":5.51},{"d":"2014-04-10","s":"Jul-17","v":5.55},{"d":"2014-04-13","s":"Jul-17","v":5.56},{"d":"2014-04-15","s":"Jul-17","v":5.54},{"d":"2014-04-21","s":"Jul-17","v":5.58},{"d":"2014-04-23","s":"Jul-17","v":5.51},{"d":"2014-04-27","s":"Jul-17","v":5.52},{"d":"2014-04-28","s":"Jul-17","v":5.54},{"d":"2014-05-02","s":"Jul-17","v":5.51},{"d":"2014-05-05","s":"Jul-17","v":5.56},{"d":"2014-05-06","s":"Jul-17","v":5.49},{"d":"2014-05-08","s":"Jul-17","v":5.53},{"d":"2014-05-12","s":"Jul-17","v":5.56},{"d":"2014-05-13","s":"Jul-17","v":5.49},{"d":"2014-05-14","s":"Jul-17","v":5.52},{"d":"2014-05-18","s":"Jul-17","v":5.51},{"d":"2014-05-20","s":"Jul-17","v":5.48},{"d":"2014-05-24","s":"Jul-17","v":5.48},{"d":"2014-05-25","s":"Jul-17","v":5.52},{"d":"2014-05-28","s":"Jul-17","v":5.45},{"d":"2014-05-30","s":"Jul-17","v":5.43},{"d":"2014-06-02","s":"Jul-17","v":5.48},{"d":"2014-06-03","s":"Jul-17","v":5.52},{"d":"2014-06-04","s":"Jul-17","v":5.50},{"d":"2014-06-05","s":"Jul-17","v":5.40},{"d":"2014-06-09","s":"Jul-17","v":5.39},{"d":"2014-06-11","s":"Jul-17","v":5.34},{"d":"2014-06-12","s":"Jul-17","v":5.34},{"d":"2014-06-13","s":"Jul-17","v":5.22},{"d":"2014-06-16","s":"Jul-17","v":5.26},{"d":"2014-06-17","s":"Jul-17","v":5.16},{"d":"2014-06-19","s":"Jul-17","v":5.20},{"d":"2014-06-23","s":"Jul-17","v":5.16},{"d":"2014-06-26","s":"Jul-17","v":5.10},{"d":"2014-06-27","s":"Jul-17","v":5.16},{"d":"2014-06-30","s":"Jul-17","v":5.18},{"d":"2014-07-01","s":"Jul-17","v":5.13},{"d":"2014-07-02","s":"Jul-17","v":5.14},{"d":"2014-07-03","s":"Jul-17","v":5.11},{"d":"2014-07-08","s":"Jul-17","v":5.08},{"d":"2014-07-10","s":"Jul-17","v":5.11},{"d":"2014-07-13","s":"Jul-17","v":5.10},{"d":"2014-07-15","s":"Jul-17","v":5.13},{"d":"2014-07-18","s":"Jul-17","v":4.97},{"d":"2014-07-20","s":"Jul-17","v":4.96},{"d":"2014-07-22","s":"Jul-17","v":4.91},{"d":"2014-07-24","s":"Jul-17","v":5.04},{"d":"2014-07-25","s":"Jul-17","v":4.95},{"d":"2014-07-28","s":"Jul-17","v":4.96},{"d":"2014-07-31","s":"Jul-17","v":5.08},{"d":"2014-08-01","s":"Jul-17","v":5.21},{"d":"2014-08-04","s":"Jul-17","v":5.17},{"d":"2014-08-05","s":"Jul-17","v":5.33},{"d":"2014-08-06","s":"Jul-17","v":5.19},{"d":"2014-08-07","s":"Jul-17","v":5.27},{"d":"2014-08-08","s":"Jul-17","v":5.14},{"d":"2014-08-11","s":"Jul-17","v":5.05},{"d":"2014-08-13","s":"Jul-17","v":5.12},{"d":"2014-08-15","s":"Jul-17","v":4.98},{"d":"2014-08-18","s":"Jul-17","v":4.91},{"d":"2014-08-21","s":"Jul-17","v":4.94},{"d":"2014-08-22","s":"Jul-17","v":4.86},{"d":"2014-08-24","s":"Jul-17","v":4.82},{"d":"2014-08-27","s":"Jul-17","v":4.72},{"d":"2014-08-29","s":"Jul-17","v":4.65},{"d":"2014-09-01","s":"Jul-17","v":4.65},{"d":"2014-09-02","s":"Jul-17","v":4.62},{"d":"2014-09-03","s":"Jul-17","v":4.60},{"d":"2014-09-04","s":"Jul-17","v":4.64},{"d":"2014-09-05","s":"Jul-17","v":4.64},{"d":"2014-09-07","s":"Jul-17","v":4.75},{"d":"2014-09-09","s":"Jul-17","v":4.89},{"d":"2014-09-10","s":"Jul-17","v":4.77},{"d":"2014-09-11","s":"Jul-17","v":5.00},{"d":"2014-09-13","s":"Jul-17","v":4.91},{"d":"2014-09-15","s":"Jul-17","v":4.85},{"d":"2014-09-17","s":"Jul-17","v":4.85},{"d":"2014-09-18","s":"Jul-17","v":4.90},{"d":"2014-09-20","s":"Jul-17","v":4.93},{"d":"2014-09-22","s":"Jul-17","v":4.98},{"d":"2014-09-23","s":"Jul-17","v":4.85},{"d":"2014-09-24","s":"Jul-17","v":4.88},{"d":"2014-09-25","s":"Jul-17","v":4.84},{"d":"2014-09-28","s":"Jul-17","v":5.14},{"d":"2014-09-29","s":"Jul-17","v":5.10},{"d":"2014-10-01","s":"Jul-17","v":5.17},{"d":"2014-10-03","s":"Jul-17","v":5.09},{"d":"2014-10-06","s":"Jul-17","v":5.02},{"d":"2014-10-07","s":"Jul-17","v":4.91},{"d":"2014-10-08","s":"Jul-17","v":4.90},{"d":"2014-10-10","s":"Jul-17","v":4.93},{"d":"2014-10-12","s":"Jul-17","v":4.90},{"d":"2014-10-16","s":"Jul-17","v":5.15},{"d":"2014-10-17","s":"Jul-17","v":5.10},{"d":"2014-10-20","s":"Jul-17","v":5.14},{"d":"2014-10-21","s":"Jul-17","v":5.28},{"d":"2014-10-22","s":"Jul-17","v":5.35},{"d":"2014-10-23","s":"Jul-17","v":5.23},{"d":"2014-10-26","s":"Jul-17","v":5.16},{"d":"2014-10-28","s":"Jul-17","v":5.01},{"d":"2014-10-29","s":"Jul-17","v":5.01},{"d":"2014-10-30","s":"Jul-17","v":5.14},{"d":"2014-11-01","s":"Jul-17","v":5.12},{"d":"2014-11-02","s":"Jul-17","v":5.13},{"d":"2014-11-03","s":"Jul-17","v":5.20},{"d":"2014-11-05","s":"Jul-17","v":5.33},{"d":"2014-11-09","s":"Jul-17","v":5.26},{"d":"2014-11-10","s":"Jul-17","v":5.34},{"d":"2014-11-12","s":"Jul-17","v":5.44},{"d":"2014-11-13","s":"Jul-17","v":5.39},{"d":"2014-11-16","s":"Jul-17","v":5.38},{"d":"2014-11-19","s":"Jul-17","v":5.32},{"d":"2014-11-20","s":"Jul-17","v":5.32},{"d":"2014-11-21","s":"Jul-17","v":5.17},{"d":"2014-11-24","s":"Jul-17","v":5.14},{"d":"2014-11-27","s":"Jul-17","v":4.88},{"d":"2014-12-01","s":"Jul-17","v":4.98},{"d":"2014-12-02","s":"Jul-17","v":5.12},{"d":"2014-12-05","s":"Jul-17","v":4.99},{"d":"2014-12-08","s":"Jul-17","v":5.05},{"d":"2014-12-09","s":"Jul-17","v":5.08},{"d":"2014-12-10","s":"Jul-17","v":5.10},{"d":"2014-12-11","s":"Jul-17","v":5.25},{"d":"2014-12-12","s":"Jul-17","v":5.29},{"d":"2014-12-15","s":"Jul-17","v":5.35},{"d":"2014-12-16","s":"Jul-17","v":5.49},{"d":"2014-12-18","s":"Jul-17","v":5.53},{"d":"2014-12-19","s":"Jul-17","v":5.59},{"d":"2014-12-22","s":"Jul-17","v":5.55},{"d":"2014-12-24","s":"Jul-17","v":5.55},{"d":"2014-12-28","s":"Jul-17","v":5.63},{"d":"2014-12-30","s":"Jul-17","v":5.59},{"d":"2015-01-01","s":"Jul-17","v":5.58},{"d":"2015-01-02","s":"Jul-17","v":5.57},{"d":"2015-01-05","s":"Jul-17","v":5.47},{"d":"2015-01-06","s":"Jul-17","v":5.37},{"d":"2015-01-08","s":"Jul-17","v":5.37},{"d":"2015-01-09","s":"Jul-17","v":5.26},{"d":"2015-01-12","s":"Jul-17","v":5.30},{"d":"2015-01-13","s":"Jul-17","v":5.16},{"d":"2015-01-14","s":"Jul-17","v":5.12},{"d":"2015-01-16","s":"Jul-17","v":4.95},{"d":"2015-01-19","s":"Jul-17","v":5.00},{"d":"2015-01-20","s":"Jul-17","v":4.87},{"d":"2015-01-22","s":"Jul-17","v":4.87},{"d":"2015-01-23","s":"Jul-17","v":5.00},{"d":"2015-01-26","s":"Jul-17","v":5.11},{"d":"2015-01-27","s":"Jul-17","v":5.15},{"d":"2015-01-28","s":"Jul-17","v":5.10},{"d":"2015-02-01","s":"Jul-17","v":5.18},{"d":"2015-02-02","s":"Jul-17","v":5.12},{"d":"2015-02-05","s":"Jul-17","v":5.02},{"d":"2015-02-09","s":"Jul-17","v":5.06},{"d":"2015-02-11","s":"Jul-17","v":5.51},{"d":"2015-02-12","s":"Jul-17","v":5.39},{"d":"2015-02-13","s":"Jul-17","v":5.41},{"d":"2015-02-18","s":"Jul-17","v":5.45},{"d":"2015-02-19","s":"Jul-17","v":5.52},{"d":"2015-02-22","s":"Jul-17","v":5.53},{"d":"2015-02-23","s":"Jul-17","v":5.46},{"d":"2015-02-24","s":"Jul-17","v":5.50},{"d":"2015-02-26","s":"Jul-17","v":5.50},{"d":"2015-02-27","s":"Jul-17","v":5.28},{"d":"2015-03-03","s":"Jul-17","v":5.30},{"d":"2015-03-05","s":"Jul-17","v":5.44},{"d":"2015-03-06","s":"Jul-17","v":5.48},{"d":"2015-03-09","s":"Jul-17","v":5.62},{"d":"2015-03-10","s":"Jul-17","v":5.55},{"d":"2015-03-11","s":"Jul-17","v":5.62},{"d":"2015-03-12","s":"Jul-17","v":5.55},{"d":"2015-03-16","s":"Jul-17","v":5.55},{"d":"2015-03-17","s":"Jul-17","v":5.51},{"d":"2015-03-19","s":"Jul-17","v":5.63},{"d":"2015-03-20","s":"Jul-17","v":5.60},{"d":"2015-03-23","s":"Jul-17","v":5.60},{"d":"2015-03-25","s":"Jul-17","v":5.62},{"d":"2015-03-26","s":"Jul-17","v":5.68}
]},
"mark": {"type": "line", "strokeWidth": 3.6, "clip": true},
"encoding": {
  "x": {"field": "d", "type": "temporal",
    "scale": {"type": "utc", "domain": [{"year": 2013, "month": 3, "date": 24, "hours": 10, "utc": true}, {"year": 2015, "month": 3, "date": 27, "hours": 20, "utc": true}]},
    "axis": {"title": null, "tickCount": {"interval": "month", "step": 1},
      "labelExpr": "['Jan','Fev','Mar','Abr','Mai','Jun','Jul','Ago','Set','Out','Nov','Dez'][utcmonth(datum.value)] + '-' + utcFormat(datum.value, '%y')",
      "labelAngle": 270, "labelAlign": "right", "labelBaseline": "middle",
      "labelFont": "DejaVu Sans", "labelFontSize": 26, "labelColor": "#000", "labelPadding": 6,
      "labelOverlap": false, "labelFlush": false,
      "tickSize": 7, "tickColor": "#999", "tickWidth": 1.5,
      "grid": true, "gridColor": "#8a8a8a", "gridDash": [5, 4], "gridWidth": 1.4,
      "domainColor": "#c8c8c8", "domainWidth": 3}},
  "y": {"field": "v", "type": "quantitative",
    "scale": {"domain": [2.94, 6.87], "nice": false, "zero": false},
    "axis": {"title": "Taxa % a.a.", "values": [3, 3.25, 3.5, 3.75, 4, 4.25, 4.5, 4.75, 5, 5.25, 5.5, 5.75, 6, 6.25, 6.5, 6.75],
      "format": ".2f", "labelFont": "DejaVu Sans", "labelFontSize": 26, "labelColor": "#000", "labelPadding": 9,
      "tickSize": 8, "tickColor": "#999", "tickWidth": 1.5,
      "grid": true, "gridColor": "#8a8a8a", "gridDash": [7, 4], "gridWidth": 1.4,
      "domainColor": "#c8c8c8", "domainWidth": 3,
      "titleFont": "DejaVu Sans Condensed, Liberation Sans Narrow, sans-serif", "titleFontSize": 37, "titleFontWeight": "normal", "titleColor": "#000", "titlePadding": 13}},
  "color": {"field": "s", "type": "nominal",
    "scale": {"domain": ["Jan-31", "Abr-21", "Jul-17"], "range": ["#24688e", "#ff7f0e", "#228b22"]},
    "legend": {"title": null, "orient": "none", "legendX": 605, "legendY": 1089, "direction": "horizontal",
      "strokeColor": "#000", "padding": 8, "fillColor": "white",
      "labelFont": "DejaVu Sans Condensed, Liberation Sans Narrow, sans-serif", "labelFontSize": 35, "labelColor": "#000", "labelLimit": 300,
      "symbolType": "stroke", "symbolSize": 1600, "symbolStrokeWidth": 4, "labelOffset": 7, "columnPadding": 8}}
}
}
